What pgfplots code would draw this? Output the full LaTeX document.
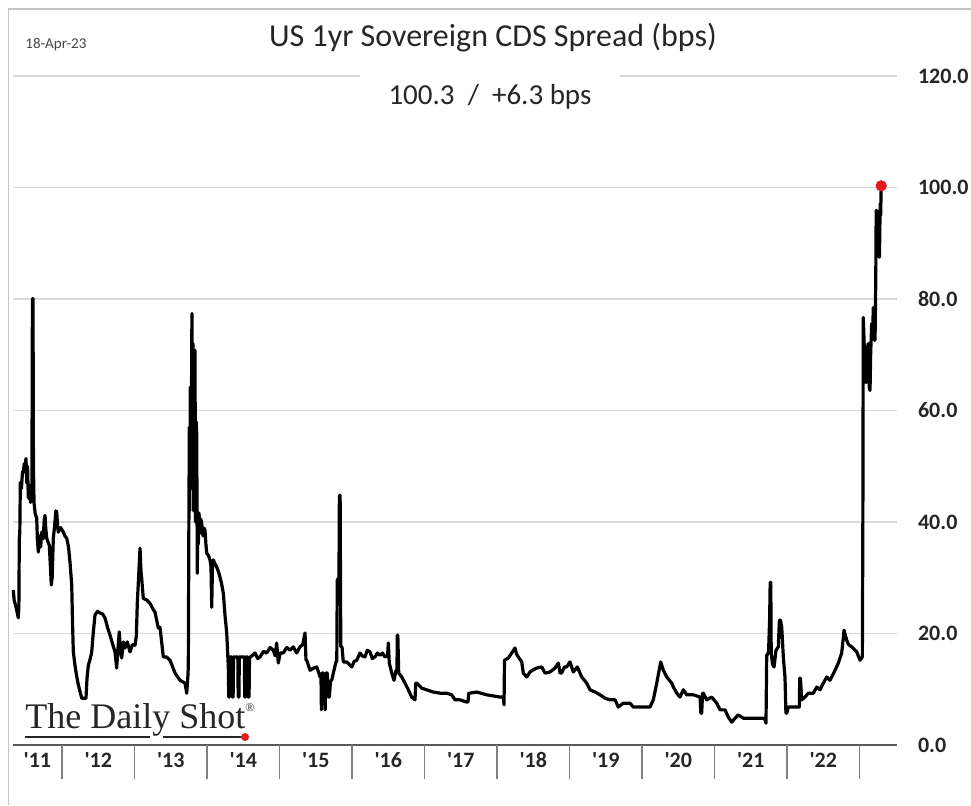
\documentclass[border=0pt]{standalone}
\usepackage{fontspec}
\setsansfont{Carlito}
\newfontfamily\logofont{Liberation Serif}
\usepackage{pgfplots}
\pgfplotsset{compat=1.18}
\definecolor{gridc}{HTML}{D9D9D9}
\definecolor{axc}{HTML}{595959}
\definecolor{txt}{HTML}{262626}
\definecolor{dotred}{HTML}{E8191C}
\definecolor{logoc}{HTML}{262626}

\pgfplotstableread{
x y
2011.328 27.8
2011.340 26.0
2011.370 24.5
2011.397 22.8
2011.405 25.0
2011.411 37.1
2011.418 38.0
2011.425 47.1
2011.440 46.0
2011.455 49.0
2011.466 48.9
2011.480 50.5
2011.490 49.5
2011.503 51.4
2011.515 47.0
2011.525 50.0
2011.535 44.3
2011.550 46.5
2011.565 43.5
2011.585 47.0
2011.592 80.1
2011.600 80.1
2011.606 50.0
2011.614 43.5
2011.630 41.5
2011.651 40.7
2011.660 37.0
2011.673 34.6
2011.690 37.5
2011.705 35.5
2011.720 38.2
2011.740 37.0
2011.755 40.5
2011.766 41.2
2011.775 39.0
2011.789 37.1
2011.805 36.5
2011.825 35.8
2011.840 32.0
2011.852 28.7
2011.864 30.0
2011.880 37.1
2011.900 39.5
2011.915 42.0
2011.927 41.8
2011.940 39.0
2011.949 38.2
2011.980 39.0
2012.018 38.2
2012.040 37.5
2012.065 37.1
2012.090 35.5
2012.110 32.8
2012.134 28.7
2012.145 22.0
2012.156 16.7
2012.179 14.3
2012.200 12.5
2012.225 10.8
2012.250 9.5
2012.272 8.4
2012.300 8.4
2012.331 8.4
2012.345 12.0
2012.363 14.3
2012.390 15.5
2012.410 16.7
2012.430 20.0
2012.455 23.3
2012.490 24.0
2012.524 23.7
2012.560 23.5
2012.593 22.8
2012.630 21.0
2012.662 19.7
2012.700 18.0
2012.731 16.7
2012.754 13.8
2012.770 17.0
2012.790 20.3
2012.805 17.0
2012.823 15.6
2012.845 18.5
2012.869 17.4
2012.900 18.5
2012.938 16.7
2012.970 18.0
2013.007 17.9
2013.025 19.5
2013.039 25.6
2013.060 31.0
2013.076 35.3
2013.090 31.0
2013.099 29.9
2013.121 26.3
2013.170 26.0
2013.214 25.4
2013.250 24.5
2013.283 23.8
2013.328 21.0
2013.352 21.1
2013.397 15.8
2013.440 15.8
2013.490 15.2
2013.559 12.9
2013.628 11.6
2013.697 11.1
2013.720 9.3
2013.735 12.0
2013.742 14.0
2013.750 40.0
2013.756 57.0
2013.762 42.0
2013.770 64.2
2013.778 46.0
2013.785 60.0
2013.792 77.4
2013.800 48.0
2013.808 72.0
2013.816 42.0
2013.825 66.0
2013.834 70.8
2013.842 40.0
2013.850 58.0
2013.858 55.9
2013.866 30.8
2013.873 41.6
2013.880 36.0
2013.890 41.6
2013.903 38.0
2013.915 40.5
2013.927 39.8
2013.945 37.5
2013.960 38.9
2013.972 38.5
2013.985 36.0
2013.996 34.4
2014.020 34.0
2014.041 33.2
2014.055 32.0
2014.065 24.7
2014.075 32.0
2014.087 33.2
2014.110 32.5
2014.134 31.9
2014.160 31.0
2014.179 30.1
2014.200 29.0
2014.225 27.2
2014.250 23.0
2014.272 20.1
2014.294 14.0
2014.300 8.6
2014.310 8.6
2014.318 15.8
2014.345 15.8
2014.350 8.6
2014.360 8.6
2014.366 15.8
2014.425 15.8
2014.430 8.6
2014.440 8.6
2014.446 15.8
2014.515 15.8
2014.520 8.6
2014.530 8.6
2014.536 15.8
2014.560 15.8
2014.565 8.6
2014.580 8.6
2014.586 15.8
2014.603 15.8
2014.662 16.5
2014.700 15.5
2014.731 15.8
2014.780 16.8
2014.823 16.5
2014.870 17.5
2014.914 17.0
2014.940 16.0
2014.961 18.3
2014.983 14.7
2015.010 16.5
2015.052 16.5
2015.100 17.5
2015.145 17.0
2015.190 17.6
2015.237 16.5
2015.283 17.6
2015.320 18.0
2015.352 20.1
2015.365 15.2
2015.375 15.2
2015.421 13.4
2015.470 13.8
2015.513 14.0
2015.540 13.0
2015.559 12.2
2015.572 12.5
2015.578 6.3
2015.586 12.9
2015.604 12.9
2015.622 12.0
2015.630 6.3
2015.640 12.9
2015.659 12.9
2015.675 8.6
2015.687 8.6
2015.705 11.6
2015.720 11.6
2015.742 12.9
2015.779 14.9
2015.790 15.0
2015.797 29.6
2015.820 30.0
2015.826 44.8
2015.836 44.8
2015.845 17.6
2015.862 17.6
2015.880 14.9
2015.927 14.9
2015.996 14.0
2016.030 15.0
2016.066 15.2
2016.110 16.5
2016.140 16.0
2016.179 15.8
2016.210 17.0
2016.248 16.7
2016.280 15.5
2016.317 15.8
2016.350 16.5
2016.386 16.1
2016.420 16.5
2016.455 15.8
2016.490 16.0
2016.501 18.3
2016.514 14.7
2016.548 12.9
2016.579 11.6
2016.607 13.4
2016.620 13.4
2016.625 19.7
2016.632 19.7
2016.644 12.9
2016.686 12.2
2016.731 11.1
2016.777 9.9
2016.823 8.6
2016.869 8.1
2016.878 11.1
2016.892 11.1
2016.961 10.2
2017.030 9.9
2017.121 9.5
2017.214 9.3
2017.306 9.3
2017.375 9.0
2017.421 8.1
2017.490 8.1
2017.582 7.7
2017.600 7.7
2017.610 9.3
2017.628 9.3
2017.720 9.5
2017.858 9.0
2018.041 8.6
2018.087 8.6
2018.097 7.2
2018.103 15.2
2018.156 15.6
2018.203 16.5
2018.248 17.4
2018.270 16.3
2018.294 15.8
2018.341 14.9
2018.363 12.9
2018.410 12.2
2018.455 13.1
2018.500 13.5
2018.548 13.8
2018.617 14.0
2018.662 12.9
2018.731 13.1
2018.800 13.8
2018.846 14.7
2018.870 12.9
2018.892 12.9
2018.930 14.0
2018.961 14.0
2019.007 14.9
2019.052 13.1
2019.108 14.0
2019.168 12.2
2019.237 11.1
2019.283 9.9
2019.352 9.5
2019.421 9.0
2019.490 8.4
2019.559 8.1
2019.628 8.1
2019.673 6.8
2019.742 7.5
2019.834 7.5
2019.880 6.8
2020.018 6.8
2020.110 6.8
2020.156 8.1
2020.203 11.1
2020.258 14.9
2020.294 13.4
2020.341 12.2
2020.410 11.1
2020.432 10.4
2020.479 9.3
2020.524 8.6
2020.570 9.9
2020.617 9.0
2020.708 9.0
2020.800 8.6
2020.812 5.7
2020.823 5.7
2020.835 9.3
2020.846 9.3
2020.892 8.1
2020.961 8.6
2021.030 7.5
2021.076 6.3
2021.145 6.3
2021.190 5.0
2021.237 4.1
2021.283 4.8
2021.328 5.4
2021.397 4.8
2021.490 4.8
2021.582 4.8
2021.673 4.8
2021.700 4.5
2021.710 3.9
2021.720 16.1
2021.745 16.5
2021.760 22.4
2021.768 29.2
2021.776 29.2
2021.782 16.5
2021.800 14.5
2021.821 14.0
2021.848 17.0
2021.880 17.6
2021.895 22.4
2021.910 22.4
2021.927 21.1
2021.949 15.8
2021.972 12.2
2021.985 5.7
2021.996 5.7
2022.018 6.8
2022.087 6.8
2022.156 6.8
2022.170 6.8
2022.175 12.0
2022.185 12.0
2022.203 8.1
2022.248 8.6
2022.294 9.3
2022.363 9.3
2022.410 10.4
2022.455 9.9
2022.501 11.1
2022.548 12.2
2022.593 11.6
2022.662 13.4
2022.708 14.7
2022.754 16.5
2022.775 19.0
2022.786 20.6
2022.823 18.8
2022.850 18.0
2022.892 17.6
2022.961 16.7
2023.007 15.2
2023.039 15.8
2023.046 40.0
2023.052 76.7
2023.064 72.0
2023.076 71.3
2023.090 65.0
2023.099 67.2
2023.110 70.0
2023.121 72.0
2023.135 64.0
2023.145 63.6
2023.154 70.3
2023.168 75.6
2023.180 73.0
2023.190 78.5
2023.205 72.6
2023.214 72.6
2023.224 83.3
2023.230 95.9
2023.237 95.9
2023.245 89.2
2023.255 94.6
2023.265 88.0
2023.275 87.5
2023.285 97.1
2023.292 95.0
2023.299 100.3
}\cdsdata

\begin{document}
\begin{tikzpicture}
\useasboundingbox (0,0) rectangle (485.5pt,402.5pt);
\draw[gray!45, line width=0.6pt] (4.25pt,0) -- (4.25pt,398pt) -- (485.5pt,398pt);
\node[anchor=west, inner sep=0, font=\sffamily\fontsize{7.5}{9}\selectfont, text=txt!85] at (12.5pt,380pt) {18-Apr-23};
\node[font=\sffamily\fontsize{16}{19}\selectfont, text=txt] at (246.5pt,383.5pt) {US 1yr Sovereign CDS Spread (bps)};

\begin{axis}[
  at={(6.5pt,30pt)}, anchor=south west,
  scale only axis, width=442pt, height=334.5pt,
  xmin=2011.324, xmax=2023.517, ymin=0, ymax=120,
  axis x line*=bottom, axis y line*=right,
  x axis line style={draw=axc, line width=0.75pt},
  y axis line style={draw=none},
  ytick={0,20,40,60,80,100,120},
  yticklabels={0.0,20.0,40.0,60.0,80.0,100.0,120.0},
  yticklabel style={anchor=west, xshift=7pt},
  ymajorgrids, major grid style={draw=gridc, line width=0.75pt},
  xtick={2011.66,2012.5,2013.5,2014.5,2015.5,2016.5,2017.5,2018.5,2019.5,2020.5,2021.5,2022.5},
  xticklabels={\textquotesingle 11,\textquotesingle 12,\textquotesingle 13,\textquotesingle 14,\textquotesingle 15,\textquotesingle 16,\textquotesingle 17,\textquotesingle 18,\textquotesingle 19,\textquotesingle 20,\textquotesingle 21,\textquotesingle 22},
  major tick length=0pt,
  extra x ticks={2012,2013,2014,2015,2016,2017,2018,2019,2020,2021,2022,2023},
  extra x tick labels={},
  extra x tick style={major tick length=17pt, tick align=outside, tick style={draw=gray, line width=0.75pt}},
  ticklabel style={font=\sffamily\bfseries\fontsize{11}{13}\selectfont, text=txt},
  /pgf/number format/assume math mode=true,
  clip=false,
]
\addplot[black, line width=1.6pt, line join=round, no markers] table[x=x, y=y] {\cdsdata};
\addplot[only marks, mark=*, mark size=2.6pt, color=dotred] coordinates {(2023.299,100.3)};
\end{axis}

\node[fill=white, inner sep=0, minimum width=130pt, minimum height=22pt, font=\sffamily\fontsize{14.5}{17}\selectfont, text=txt] at (245pt,354pt) {100.3\ \ /\ \ +6.3 bps};

\node[anchor=base west, inner sep=0, font=\logofont\fontsize{18}{20}\selectfont, text=logoc] at (12.5pt,38pt) {The Daily Shot\raisebox{0.5em}{\fontsize{6}{6}\selectfont\textregistered}};
\draw[logoc, line width=1.1pt] (12.5pt,34pt) -- (75pt,34pt);
\draw[logoc, line width=1.1pt] (81.5pt,34pt) -- (121pt,34pt);
\fill[dotred] (122.5pt,34pt) circle (2pt);
\end{tikzpicture}
\end{document}
